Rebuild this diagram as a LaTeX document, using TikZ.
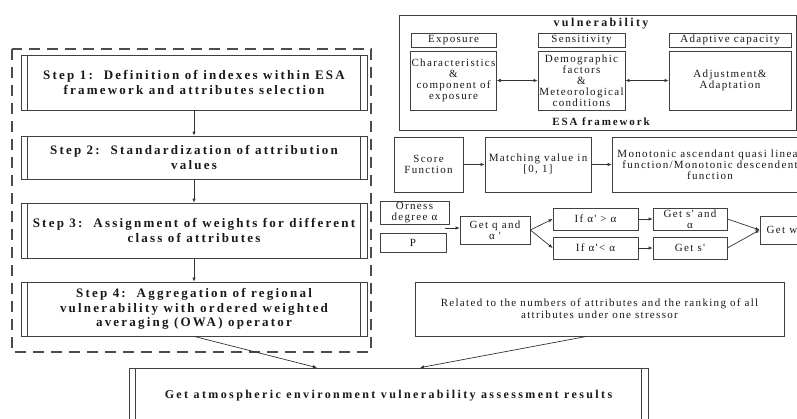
\documentclass[tikz,border=0pt]{standalone}
\usepackage{fontspec}
\setmainfont{Liberation Serif}
\newfontfamily\wideserif[LetterSpace=12]{Liberation Serif}
\newfontfamily\widerserif[LetterSpace=17]{Liberation Serif}
\newfontfamily\widestserif[LetterSpace=20]{Liberation Serif}
\usetikzlibrary{arrows.meta}
\tikzset{
  box/.style={draw=black!75, line width=0.7pt, align=center, inner sep=1pt, text=black!90},
  stepbox/.style={box, font=\widerserif\bfseries\fontsize{13}{14.5}\selectfont},
  smallbox/.style={box, font=\wideserif\fontsize{11}{11}\selectfont},
  conn/.style={draw=black!80, line width=0.7pt, -{Latex[length=4pt,width=3.5pt]}},
  dconn/.style={draw=black!80, line width=0.7pt, {Latex[length=4pt,width=3.5pt]}-{Latex[length=4pt,width=3.5pt]}},
  dbl/.style={draw=black!75, line width=0.7pt},
  frame/.style={draw=black!70, line width=2pt, dash pattern=on 11pt off 7pt}
}
\begin{document}
\begin{tikzpicture}[x=1pt,y=-1pt]
\useasboundingbox (0,0) rectangle (797,418);
\clip (0,0) rectangle (797,418);
\fill[white] (0,0) rectangle (797,418);

% dashed frame
\draw[frame] (12,49) rectangle (371,352);

% steps
\node[stepbox, minimum width=346pt, minimum height=55pt] (s1) at (194,82.5)
  {Step 1:\ \ Definition of indexes within ESA\\framework and attributes selection};
\node[stepbox, minimum width=346pt, minimum height=43pt] (s2) at (194,157.5)
  {Step 2:\ \ Standardization of attribution\\values};
\node[stepbox, minimum width=346pt, minimum height=55pt] (s3) at (194,230.5)
  {Step 3:\ \ Assignment of weights for different\\class of attributes};
\node[stepbox, minimum width=346pt, minimum height=54pt] (s4) at (194,309)
  {Step 4:\ \ Aggregation of regional\\vulnerability with ordered weighted\\averaging (OWA) operator};
\foreach \s in {s1,s2,s3,s4}{
  \draw[dbl] ([xshift=7pt]\s.north west) -- ([xshift=7pt]\s.south west);
  \draw[dbl] ([xshift=-7pt]\s.north east) -- ([xshift=-7pt]\s.south east);
}
\draw[conn] (s1) -- (s2);
\draw[conn] (s2) -- (s3);
\draw[conn] (s3) -- (s4);

% ESA framework
\node[box, minimum width=397pt, minimum height=115pt] (esa) at (597.5,72.5) {};
\node[font=\widestserif\bfseries\fontsize{12}{13}\selectfont, text=black!90] (vul) at (601,24) {vulnerability};
\node[font=\widerserif\bfseries\fontsize{11}{12}\selectfont, text=black!90] (esal) at (601,122) {ESA framework};
\node[smallbox, minimum width=85pt, minimum height=14pt] (exh) at (453.5,40) {Exposure};
\node[smallbox, minimum width=87pt, minimum height=14pt] (sh) at (581.5,40) {Sensitivity};
\node[smallbox, minimum width=122pt, minimum height=14pt] (ah) at (730,40) {Adaptive capacity};
\node[smallbox, minimum width=85pt, minimum height=59pt] (exc) at (453.5,80.5) {Characteristics\\\&\\component of\\exposure};
\node[smallbox, minimum width=87pt, minimum height=59pt] (sc) at (581.5,80.5) {Demographic\\factors\\\&\\Meteorological\\conditions};
\node[smallbox, minimum width=122pt, minimum height=59pt] (ac) at (730,80.5) {Adjustment\&\\Adaptation};
\draw[dconn] (exc) -- (sc);
\draw[dconn] (sc) -- (ac);

% score function row
\node[smallbox, minimum width=69pt, minimum height=55pt] (sf) at (428.5,164.5) {Score\\Function};
\node[smallbox, minimum width=106pt, minimum height=55pt] (mv) at (538,164.5) {Matching value in\\{}[0, 1]};
\node[smallbox, minimum width=196pt, minimum height=55pt] (mono) at (710,164.5)
  {Monotonic ascendant quasi linear\\function/Monotonic descendent\\function};
\draw[conn] (sf) -- (mv);
\draw[conn] (mv) -- (mono);

% OWA row
\node[smallbox, minimum width=69pt, minimum height=22pt] (om) at (414.5,213) {Orness\\degree α};
\node[smallbox, minimum width=66pt, minimum height=19pt] (p) at (413,242.5) {P};
\node[smallbox, minimum width=70pt, minimum height=28pt] (gq) at (495,230) {Get q and\\α '};
\node[smallbox, minimum width=85pt, minimum height=22pt] (ifg) at (595.5,219) {If α' > α};
\node[smallbox, minimum width=85pt, minimum height=22pt] (ifl) at (595.5,248) {If α'< α};
\node[smallbox, minimum width=74pt, minimum height=22pt] (gsa) at (690,219) {Get s' and\\α};
\node[smallbox, minimum width=74pt, minimum height=22pt] (gs) at (690,248) {Get s'};
\node[smallbox, minimum width=44pt, minimum height=28pt] (gw) at (782,230) {Get w};
\coordinate (op) at (445,228);
\draw[conn] (op) -- (gq.west |- op);
\draw[conn] (gq.east) -- (ifg.west);
\draw[conn] (gq.east) -- (ifl.west);
\draw[conn] (ifg) -- (gsa);
\draw[conn] (ifl) -- (gs);
\draw[conn] (gsa.east) -- (gw.west);
\draw[conn] (gs.east) -- (gw.west);

% related box
\node[box, font=\wideserif\fontsize{11}{11.7}\selectfont, minimum width=369pt, minimum height=54pt] (rel) at (599.5,309)
  {Related to the numbers of attributes and the ranking of all\\attributes under one stressor};

% result box
\node[box, font=\widestserif\bfseries\fontsize{12}{13}\selectfont, minimum width=519pt, minimum height=56pt] (res) at (388.5,396)
  {Get atmospheric environment vulnerability assessment results};
\draw[dbl] ([xshift=7pt]res.north west) -- ([xshift=7pt]res.south west);
\draw[dbl] ([xshift=-7pt]res.north east) -- ([xshift=-7pt]res.south east);

\draw[conn] (s4.south) -- ([xshift=-71.5pt]res.north);
\draw[conn] ([xshift=-12.5pt]rel.south) -- ([xshift=31.5pt]res.north);
\end{tikzpicture}
\end{document}
